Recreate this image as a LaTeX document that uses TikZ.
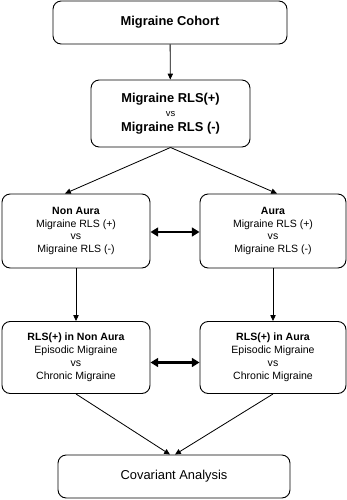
\documentclass[tikz,border=0pt]{standalone}
\usepackage{fontspec}
\setmainfont{Liberation Sans}
\usetikzlibrary{arrows.meta}
\tikzset{
  stage/.style={draw, rounded corners=7pt, line width=0.8pt, align=center,
    inner sep=0pt, font=\fontsize{9}{11}\selectfont},
  flow/.style={-{Triangle[length=5pt, width=4.5pt]}, line width=0.7pt},
  link/.style={{Triangle[length=6.5pt, width=7.5pt]}-{Triangle[length=6.5pt, width=7.5pt]},
    line width=2.2pt},
}
\newcommand{\vsword}{{\fontsize{8}{9}\selectfont vs}}
\begin{document}
\begin{tikzpicture}[x=0.03cm, y=-0.03cm]
  \useasboundingbox (0, 0) rectangle (347, 500);
  % Cohort and the first comparison.
  \node[stage, minimum width=7.02cm, minimum height=1.29cm,
    font=\fontsize{11}{13}\selectfont\bfseries] (coh) at (170, 22.5) {Migraine Cohort};
  \node[stage, minimum width=4.77cm, minimum height=2.01cm,
    font=\fontsize{11}{12.5}\selectfont\bfseries] (cmp) at (170.5, 113.5)
    {Migraine RLS(+)\\{\mdseries\vsword}\\Migraine RLS (-)};
  % Split by aura.
  \node[stage, minimum width=4.44cm, minimum height=2.22cm] (na) at (76, 231)
    {\textbf{Non Aura}\\Migraine RLS (+)\\vs\\Migraine RLS (-)};
  \node[stage, minimum width=4.38cm, minimum height=2.22cm] (au) at (273, 231)
    {\textbf{Aura}\\Migraine RLS (+)\\vs\\Migraine RLS (-)};
  % Episodic against chronic within each group.
  \node[stage, minimum width=4.44cm, minimum height=2.16cm] (rn) at (76, 357.5)
    {\textbf{RLS(+) in Non Aura}\\Episodic Migraine\\vs\\Chronic Migraine};
  \node[stage, minimum width=4.38cm, minimum height=2.16cm] (ra) at (273, 357.5)
    {\textbf{RLS(+) in Aura}\\Episodic Migraine\\vs\\Chronic Migraine};
  % Final step.
  \node[stage, minimum width=6.96cm, minimum height=1.29cm,
    font=\fontsize{11}{13}\selectfont] (cov) at (174, 476.5) {Covariant Analysis};
  % Connectors.
  \draw[flow] (coh) -- (cmp);
  \draw[flow] (cmp.south) -- ([xshift=-0.33cm]na.north);
  \draw[flow] (cmp.south) -- ([xshift=0.12cm]au.north);
  \draw[flow] (na) -- (rn);
  \draw[flow] (au) -- (ra);
  \draw[flow] (rn.south) -- ([xshift=-0.12cm]cov.north);
  \draw[flow] (ra.south) -- ([xshift=0.03cm]cov.north);
  \draw[link] ([yshift=-0.03cm]na.east) -- ([yshift=-0.03cm]au.west);
  \draw[link] ([yshift=-0.15cm]rn.east) -- ([yshift=-0.15cm]ra.west);
\end{tikzpicture}
\end{document}
